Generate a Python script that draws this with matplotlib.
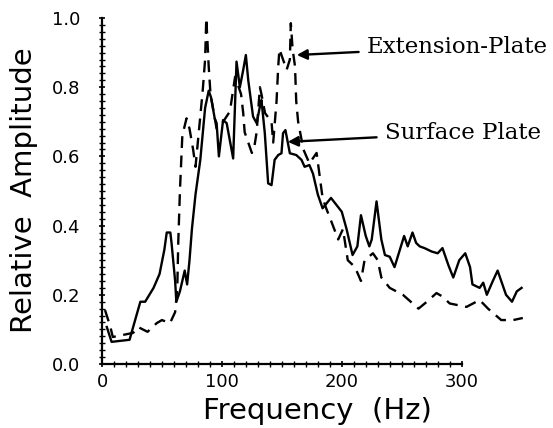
import matplotlib
matplotlib.use("Agg")
import matplotlib.pyplot as plt
import numpy as np

# Surface Plate (solid)
surf_f = [4, 8, 23, 26, 32, 36, 43, 48, 52, 54, 57, 58, 61, 62, 65, 69, 71, 73, 75, 78,
          82, 86, 89, 91, 94, 95.6, 97.5, 101, 104, 109.4, 112.2, 115, 117.8, 120, 122,
          126, 129, 131.7, 133, 135.8, 138.6, 141.4, 144, 147, 149.7, 151, 153, 156.7,
          162, 166.4, 169, 173, 176, 180, 184, 191, 200, 204, 209, 213, 216, 220, 223,
          225, 229, 233, 236, 240, 244, 248, 252, 255, 259, 262, 265, 269, 275, 280,
          284, 289, 293, 298, 303, 307, 309, 315, 318, 321, 326, 330, 333, 337, 342,
          346, 350]
surf_a = [0.107, 0.064, 0.07, 0.107, 0.18, 0.18, 0.22, 0.26, 0.33, 0.38, 0.38, 0.35, 0.24,
          0.18, 0.21, 0.27, 0.23, 0.30, 0.39, 0.49,
          0.59, 0.74, 0.79, 0.77, 0.71, 0.696, 0.60, 0.705, 0.696, 0.594, 0.874, 0.80,
          0.85, 0.893, 0.82, 0.715, 0.696, 0.744, 0.763, 0.667, 0.522, 0.517, 0.59,
          0.604, 0.609, 0.667, 0.676, 0.609, 0.604, 0.59, 0.57, 0.575, 0.55, 0.49, 0.45,
          0.48, 0.44, 0.39, 0.315, 0.34, 0.43, 0.37, 0.34, 0.36, 0.47, 0.36, 0.315, 0.31,
          0.28, 0.325, 0.37, 0.34, 0.38, 0.35, 0.34, 0.335, 0.325, 0.32, 0.335, 0.285,
          0.25, 0.30, 0.32, 0.28, 0.23, 0.22, 0.235, 0.20, 0.24, 0.27, 0.24, 0.20, 0.18,
          0.21, 0.22]

# Extension-Plate (dashed)
ext_f = [2.5, 7, 9, 26, 30, 38, 45.6, 50, 56.7, 61, 62.8, 63.6, 65, 67, 70.5, 73, 76, 78,
         84, 86, 87, 89, 90.5, 95.6, 101, 106.7, 108, 111, 116, 117.8, 119, 122, 125,
         126.7, 129, 131.7, 133, 136, 141.4, 142.8, 145.6, 147, 148, 151, 154, 156.7,
         157.5, 159, 161, 162, 163.6, 168, 173, 179, 184, 187, 191.5, 197, 201, 205, 211,
         216, 219, 226, 230, 233, 240, 251, 264, 271, 279, 284, 290, 304, 315, 322, 333,
         343, 351]
ext_a = [0.156, 0.107, 0.078, 0.09, 0.107, 0.093, 0.118, 0.127, 0.118, 0.15, 0.22, 0.35,
         0.50, 0.66, 0.71, 0.68, 0.62, 0.57, 0.79, 0.88, 1.0, 0.86, 0.78, 0.68, 0.70,
         0.73, 0.76, 0.83, 0.78, 0.725, 0.67, 0.64, 0.61, 0.62, 0.67, 0.80, 0.78, 0.725,
         0.70, 0.64, 0.76, 0.86, 0.91, 0.88, 0.85, 0.88, 0.985, 0.91, 0.86, 0.76, 0.70,
         0.62, 0.58, 0.61, 0.48, 0.45, 0.41, 0.36, 0.39, 0.30, 0.28, 0.24, 0.30, 0.32,
         0.30, 0.25, 0.22, 0.20, 0.16, 0.18, 0.205, 0.195, 0.175, 0.165, 0.185, 0.16,
         0.127, 0.127, 0.133]

x_ticks = [0, 100, 200, 300]
y_ticks = [0.0, 0.2, 0.4, 0.6, 0.8, 1.0]

fig = plt.figure(figsize=(5.53, 4.28), dpi=100)
ax = fig.add_axes([102/553, 64/428, 422/553, 346/428])
ax.set_xlim(0, 352)
ax.set_ylim(0, 1.0)

ax.plot(surf_f, surf_a, color="black", lw=1.7, solid_joinstyle="round", clip_on=False)
ax.plot(ext_f, ext_a, color="black", lw=1.7, dashes=(5, 3.2), clip_on=False)

for s in ["top", "right"]:
    ax.spines[s].set_visible(False)
ax.spines["bottom"].set_bounds(0, 300)
ax.spines["left"].set_linewidth(1.6)
ax.spines["bottom"].set_linewidth(1.6)

ax.set_xticks(x_ticks)
ax.set_xticklabels([str(v) for v in x_ticks])
ax.set_yticks(y_ticks)
ax.set_yticklabels([f"{v:.1f}" for v in y_ticks])
ax.set_xticks(np.arange(0, 301, 10), minor=True)
ax.set_yticks(np.arange(0, 1.001, 0.02), minor=True)
ax.tick_params(axis="both", which="major", labelsize=13, width=1.2, length=5,
               direction="inout")
ax.tick_params(axis="y", which="major", pad=13)
ax.tick_params(axis="x", which="major", pad=4)
ax.tick_params(axis="both", which="minor", width=1.0, length=4, direction="inout")

ax.text(0.51, -0.135, "Frequency  (Hz)", transform=ax.transAxes, ha="center",
        va="center", fontsize=21)
fig.text(24/553, 1 - 190/428, "Relative  Amplitude", rotation=90, ha="center",
         va="center", fontsize=21)

ax.annotate("Extension-Plate", xy=(162.5, 0.893), xytext=(221, 0.916),
            ha="left", va="center", fontsize=16.5, family="DejaVu Serif",
            arrowprops=dict(arrowstyle="-|>", color="black", lw=1.7,
                            mutation_scale=15, shrinkA=4, shrinkB=0))
ax.annotate("Surface Plate", xy=(155, 0.642), xytext=(236, 0.668),
            ha="left", va="center", fontsize=16.5, family="DejaVu Serif",
            arrowprops=dict(arrowstyle="-|>", color="black", lw=1.7,
                            mutation_scale=15, shrinkA=4, shrinkB=0))

fig.savefig("out.png", dpi=100)
